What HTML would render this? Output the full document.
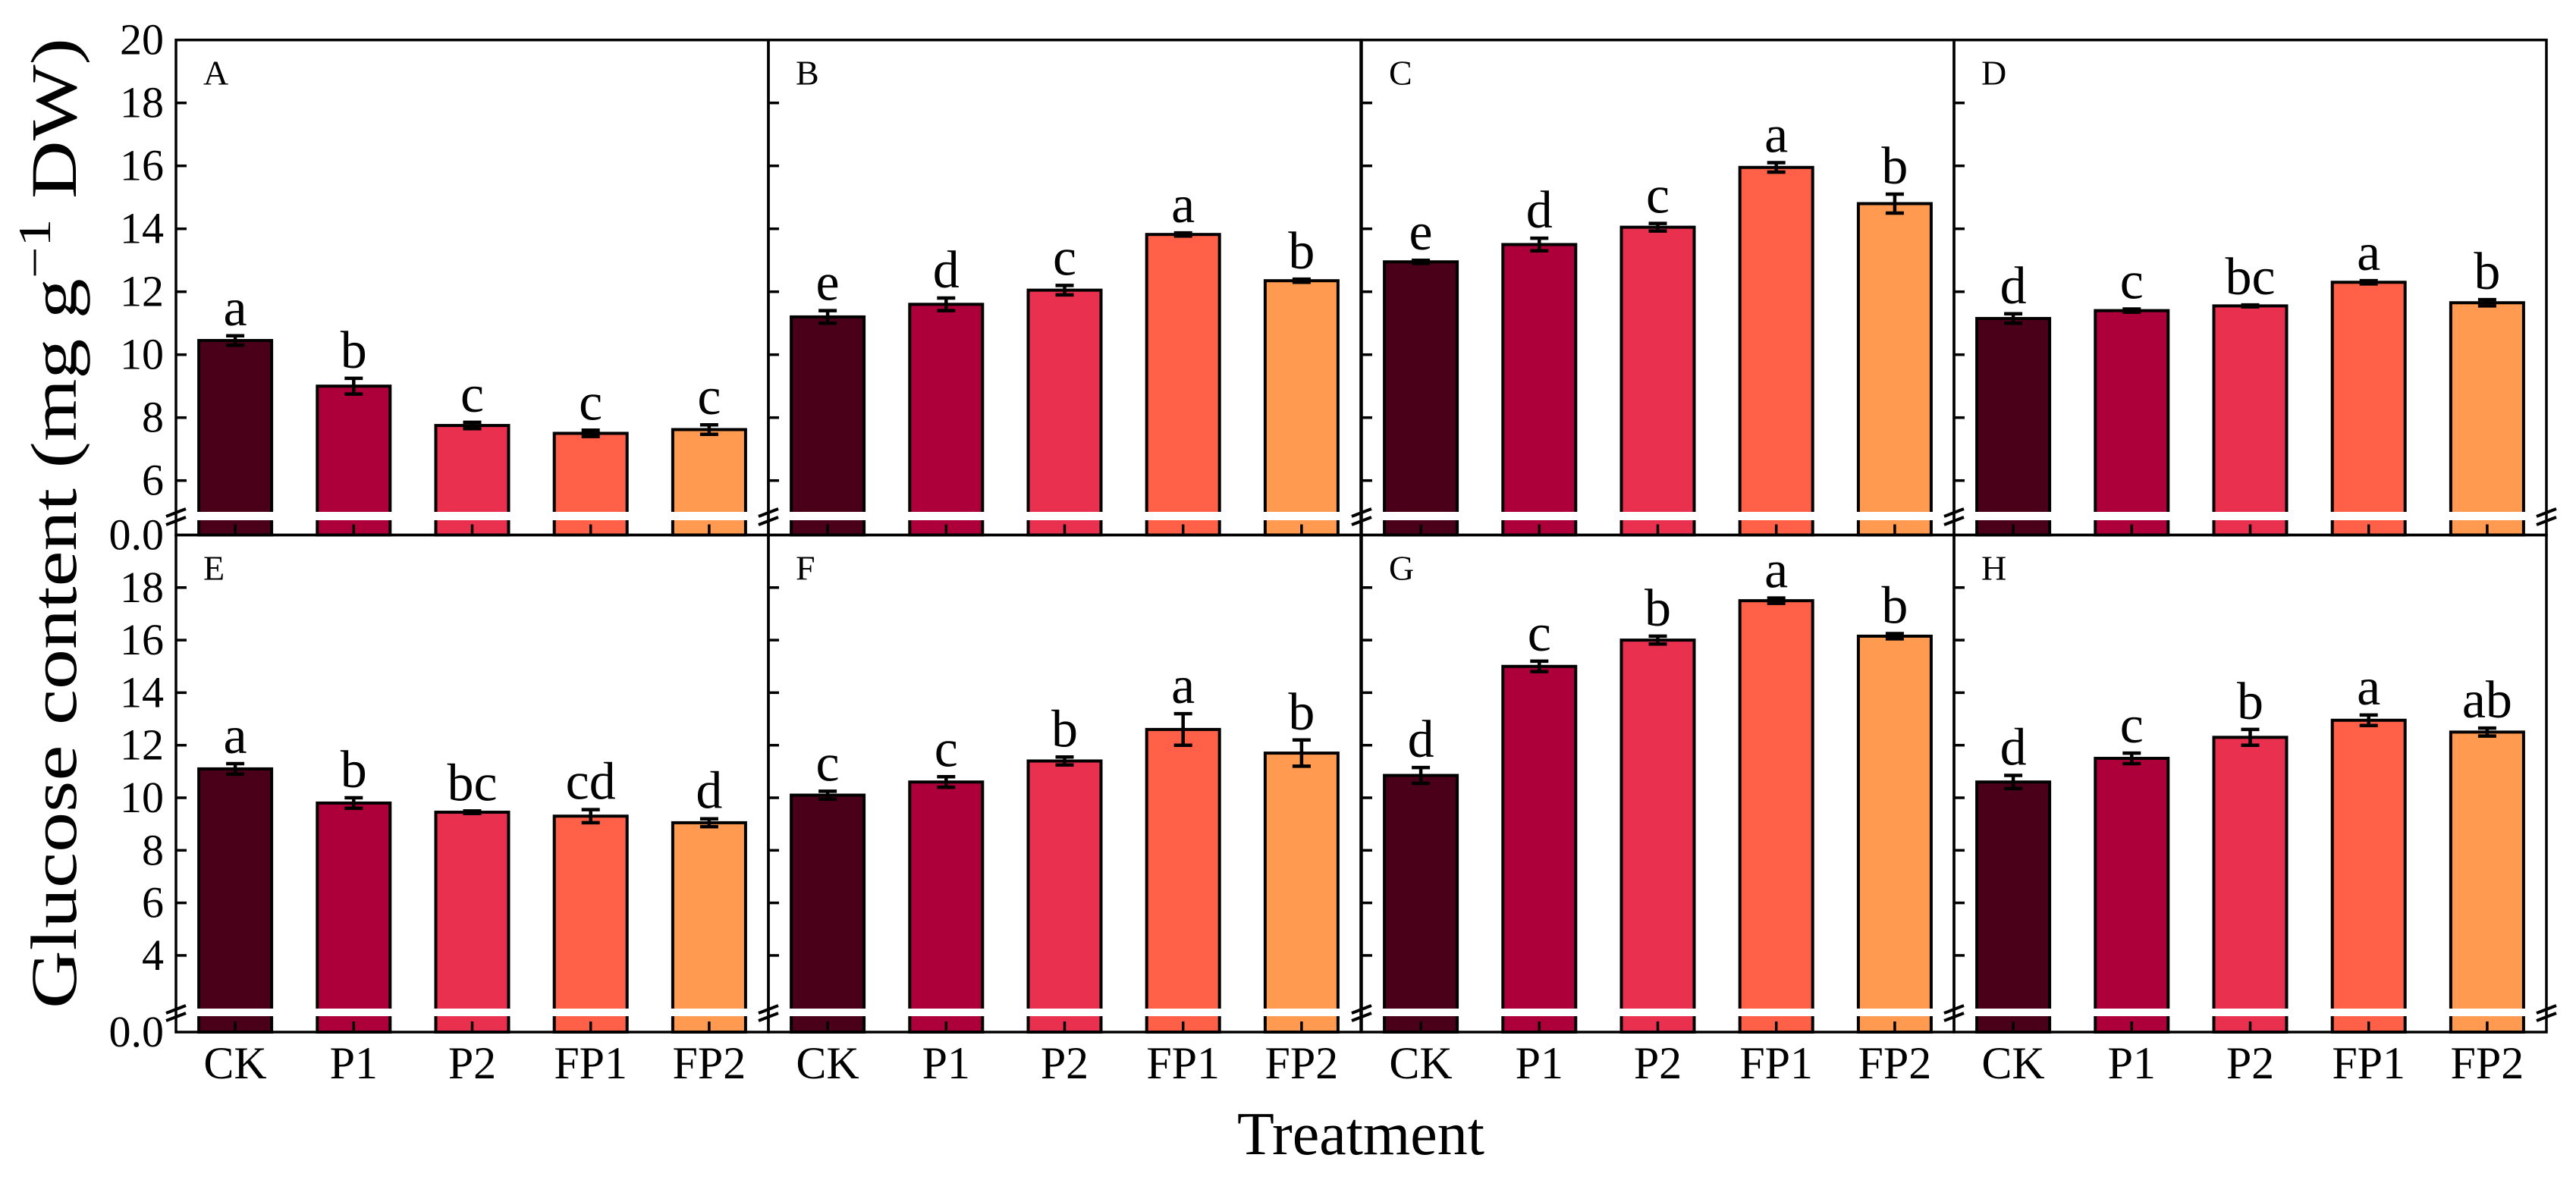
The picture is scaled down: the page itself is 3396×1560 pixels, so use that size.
<!DOCTYPE html>
<html><head><meta charset="utf-8"><style>
html,body{margin:0;padding:0;background:#fff;}
svg{display:block;font-family:"Liberation Serif","Times New Roman",serif;}
</style></head><body>
<svg id="chart" width="3396" height="1560" viewBox="0 0 3396 1560" xmlns="http://www.w3.org/2000/svg" font-family="Liberation Serif, serif"></svg>
<script>
const categories = ["CK","P1","P2","FP1","FP2"];
const panelLabels = ["A","B","C","D","E","F","G","H"];
const valuesA = [10.45, 9.0, 7.75, 7.5, 7.62];
const valuesB = [11.2, 11.6, 12.05, 13.82, 12.35];
const valuesC = [12.95, 13.5, 14.05, 15.95, 14.8];
const valuesD = [11.15, 11.4, 11.55, 12.3, 11.65];
const valuesE = [11.1, 9.8, 9.45, 9.3, 9.05];
const valuesF = [10.1, 10.6, 11.4, 12.6, 11.7];
const valuesG = [10.85, 15.0, 16.0, 17.5, 16.15];
const valuesH = [10.6, 11.5, 12.3, 12.95, 12.5];
const errA = [0.15, 0.25, 0.1, 0.1, 0.15];
const errB = [0.2, 0.2, 0.15, 0.05, 0.05];
const errC = [0.05, 0.2, 0.12, 0.15, 0.3];
const errD = [0.15, 0.05, 0.03, 0.05, 0.1];
const errE = [0.2, 0.2, 0.05, 0.25, 0.15];
const errF = [0.15, 0.2, 0.15, 0.6, 0.5];
const errG = [0.3, 0.2, 0.15, 0.1, 0.1];
const errH = [0.25, 0.2, 0.3, 0.2, 0.15];
const lettersA = ["a","b","c","c","c"];
const lettersB = ["e","d","c","a","b"];
const lettersC = ["e","d","c","a","b"];
const lettersD = ["d","c","bc","a","b"];
const lettersE = ["a","b","bc","cd","d"];
const lettersF = ["c","c","b","a","b"];
const lettersG = ["d","c","b","a","b"];
const lettersH = ["d","c","b","a","ab"];
const topTicks = [6,8,10,12,14,16,18,20];
const bottomTicks = [4,6,8,10,12,14,16,18];

const allValues = [valuesA,valuesB,valuesC,valuesD,valuesE,valuesF,valuesG,valuesH];
const allErr = [errA,errB,errC,errD,errE,errF,errG,errH];
const allLetters = [lettersA,lettersB,lettersC,lettersD,lettersE,lettersF,lettersG,lettersH];
const colors = ["#4b0019","#ad003a","#e9304e","#ff6047","#ff9a50"];

const NS = "http://www.w3.org/2000/svg";
const svg = document.getElementById("chart");
function mk(tag, attrs, parent){
  const e = document.createElementNS(NS, tag);
  for (const k in attrs) e.setAttribute(k, attrs[k]);
  (parent||svg).appendChild(e);
  return e;
}
const panelX = [232, 1013, 1795, 2576];
const panelW = 781;
const rows = [
  {top:52.7, bottom:705.5, perUnit:41.5, breakTop:675, breakBot:686, ticks:topTicks},
  {top:705.5, bottom:1361, perUnit:34.65, breakTop:1330, breakBot:1340, ticks:bottomTicks}
];
function yScale(r, v){ return rows[r].top + (20 - v) * rows[r].perUnit; }
function xScale(c, i){ return panelX[c] + panelW/5 * (i + 0.5); }
const barW = 96;

for (let p = 0; p < 8; p++) {
  const r = Math.floor(p/4), c = p % 4;
  const row = rows[r];
  const g = mk("g", {});
  
  
  const vals = allValues[p], errs = allErr[p], lets = allLetters[p];
  for (let i = 0; i < 5; i++) {
    const cx = xScale(c, i);
    const yt = yScale(r, vals[i]);
    const bar = mk("rect", {x: cx - barW/2, y: yt, width: barW, height: row.bottom - yt, fill: colors[i], stroke: "#000", "stroke-width": 4}, g);
    
    
    const e1 = yScale(r, vals[i] + errs[i]), e2 = yScale(r, vals[i] - errs[i]);
    const eb = mk("path", {d: `M${cx},${e1}V${e2}M${cx-12},${e1}H${cx+12}M${cx-12},${e2}H${cx+12}`, stroke:"#000", "stroke-width":4.5, fill:"none"}, g);
    
    
    const t = mk("text", {x: cx, y: e1 - 14, "font-size": 70, "text-anchor": "middle", fill:"#000"}, g);
    t.textContent = lets[i];
    
    
    const xt = mk("line", {x1: cx, x2: cx, y1: row.bottom, y2: row.bottom - 14, stroke:"#000", "stroke-width":3.5}, g);
    
    
  }
  const band = mk("rect", {x: panelX[c] + 2, y: row.breakTop, width: panelW - 4, height: row.breakBot - row.breakTop, fill:"#fff"}, g);
  
  
  row.ticks.forEach(v => {
    const yy = yScale(r, v);
    if (v < 20) {
      const tk = mk("line", {x1: panelX[c], x2: panelX[c] + 14, y1: yy, y2: yy, stroke:"#000", "stroke-width":3.5}, g);
      
      
    }
    if (c === 0) {
      const tl = mk("text", {x: 216, y: yy + 19, "font-size": 58, "text-anchor": "end"}, g);
      tl.textContent = v;
      
      
    }
  });
  if (c === 0) {
    const zl = mk("text", {x: 216, y: row.bottom + 19, "font-size": 58, "text-anchor": "end"}, g);
    zl.textContent = "0.0";
    
    
  }
  const fr = mk("rect", {x: panelX[c], y: row.top, width: panelW, height: row.bottom - row.top, fill:"none", stroke:"#000", "stroke-width":3.5}, g);
  
  
  const bxs = [panelX[c]];
  if (c === 3) bxs.push(panelX[c] + panelW);
  bxs.forEach(bx => {
    const sl = mk("path", {d: `M${bx-13},${row.breakTop+6}L${bx+13},${row.breakTop-4}M${bx-13},${row.breakBot+6}L${bx+13},${row.breakBot-4}`, stroke:"#000", "stroke-width":4, fill:"none"}, g);
    
    
  });
  const pl = mk("text", {x: panelX[c] + 36, y: row.top + 59, "font-size": 46}, g);
  pl.textContent = panelLabels[p];
  
  
  if (r === 1) {
    for (let i = 0; i < 5; i++) {
      const xl = mk("text", {x: xScale(c, i), y: 1422, "font-size": 60, "text-anchor":"middle"}, g);
      xl.textContent = categories[i];
      
      
    }
  }
}
const yt = mk("text", {x: 0, y: 0, "font-size": 86, "text-anchor":"middle", textLength: 1280, lengthAdjust: "spacingAndGlyphs", transform:"translate(100,690) rotate(-90)"});
yt.innerHTML = 'Glucose content (mg g<tspan dy="-34" font-size="60">−1</tspan><tspan dy="34"> DW)</tspan>';


const xtt = mk("text", {x: 1794, y: 1522, "font-size": 80, "text-anchor":"middle"});
xtt.textContent = "Treatment";


</script>
</body></html>
